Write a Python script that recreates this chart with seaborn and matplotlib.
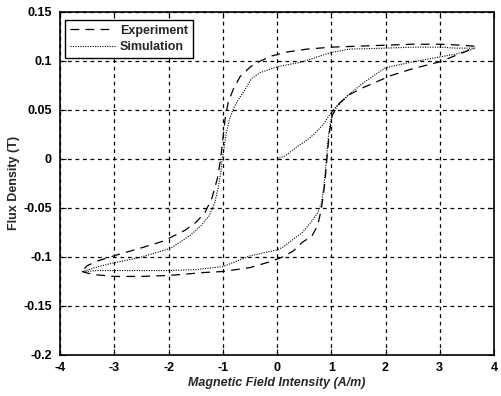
import matplotlib
matplotlib.use("Agg")
import matplotlib.pyplot as plt
import seaborn as sns
import pandas as pd
from matplotlib.lines import Line2D

# ---- data ----
exp_desc_x = [3.64, 3.4, 3.0, 2.5, 2.0, 1.5, 1.0, 0.55, 0.18, -0.1, -0.3, -0.49, -0.68, -0.8, -0.9, -0.96,
              -1.0, -1.04, -1.1, -1.2, -1.33, -1.5, -1.7, -2.1, -2.45, -2.95, -3.3, -3.5, -3.6]
exp_desc_y = [0.115, 0.116, 0.117, 0.117, 0.116, 0.115, 0.114, 0.112, 0.109, 0.105, 0.100, 0.094, 0.084, 0.072,
              0.058, 0.04, 0.02, 0.0, -0.02, -0.04, -0.055, -0.065, -0.073, -0.084, -0.090, -0.098, -0.104,
              -0.109, -0.115]

exp_asc_x = [-3.6, -3.4, -3.0, -2.5, -2.0, -1.76, -1.35, -1.0, -0.5, -0.13, 0.11, 0.3, 0.47, 0.64, 0.75, 0.82,
             0.88, 0.92, 0.96, 1.02, 1.15, 1.35, 1.6, 2.1, 2.5, 3.0, 3.27, 3.5, 3.64]
exp_asc_y = [-0.115, -0.118, -0.120, -0.120, -0.119, -0.118, -0.116, -0.115, -0.111, -0.105, -0.100, -0.094,
             -0.085, -0.079, -0.068, -0.05, -0.025, 0.0, 0.025, 0.045, 0.057, 0.066, 0.073, 0.085, 0.092,
             0.099, 0.105, 0.110, 0.115]

sim_init_x = [0.0, 0.15, 0.36, 0.55, 0.7, 0.85, 0.97, 1.1, 1.33]
sim_init_y = [0.0, 0.003, 0.012, 0.019, 0.026, 0.035, 0.045, 0.054, 0.066]

sim_desc_x = [3.65, 3.3, 3.0, 2.5, 2.0, 1.33, 0.96, 0.47, 0.0, -0.31, -0.47, -0.62, -0.72, -0.8, -0.88, -0.94,
              -0.98, -1.01, -1.04, -1.08, -1.15, -1.25, -1.4, -1.6, -1.95, -2.55, -3.0, -3.3, -3.58]
sim_desc_y = [0.113, 0.113, 0.114, 0.114, 0.113, 0.112, 0.108, 0.099, 0.094, 0.088, 0.082, 0.068, 0.060, 0.052,
              0.040, 0.025, 0.01, 0.0, -0.015, -0.028, -0.045, -0.058, -0.068, -0.078, -0.091, -0.101,
              -0.106, -0.110, -0.115]

sim_asc_x = [-3.58, -3.3, -3.0, -2.5, -2.0, -1.5, -1.0, -0.5, 0.0, 0.11, 0.47, 0.65, 0.75, 0.82, 0.87, 0.91,
             0.95, 1.0, 1.1, 1.33, 1.6, 2.0, 2.5, 3.0, 3.3, 3.56, 3.65]
sim_asc_y = [-0.115, -0.114, -0.114, -0.114, -0.114, -0.113, -0.110, -0.099, -0.093, -0.090, -0.075, -0.063,
             -0.055, -0.045, -0.025, 0.0, 0.025, 0.042, 0.053, 0.066, 0.078, 0.093, 0.099, 0.104, 0.107,
             0.111, 0.113]

x_ticks = [-4, -3, -2, -1, 0, 1, 2, 3, 4]
y_ticks = [-0.2, -0.15, -0.1, -0.05, 0, 0.05, 0.1, 0.15]
y_tick_labels = ["-0.2", "-0.15", "-0.1", "-0.05", "0", "0.05", "0.1", "0.15"]

sns.set_style("ticks")
plt.rcParams["font.family"] = ["Liberation Sans", "DejaVu Sans"]
plt.rcParams["font.weight"] = "bold"

fig = plt.figure(figsize=(5.01, 3.96), dpi=100)
ax = fig.add_axes([0.12, 0.104, 0.866, 0.866])

exp_style = dict(color="black", linewidth=0.9, dashes=(7, 5))
sim_style = dict(color="black", linewidth=0.8, dashes=(1, 1.2))

def branch(x, y, **kw):
    df = pd.DataFrame({"H": x, "B": y})
    sns.lineplot(data=df, x="H", y="B", sort=False, estimator=None, ax=ax, **kw)

branch(exp_desc_x, exp_desc_y, **exp_style)
branch(exp_asc_x, exp_asc_y, **exp_style)
branch(sim_init_x, sim_init_y, **sim_style)
branch(sim_desc_x, sim_desc_y, **sim_style)
branch(sim_asc_x, sim_asc_y, **sim_style)

ax.set_xlim(-4, 4)
ax.set_ylim(-0.2, 0.15)
ax.set_xticks(x_ticks)
ax.set_xticklabels([str(t) for t in x_ticks], fontweight="bold", fontsize=9)
ax.set_yticks(y_ticks)
ax.set_yticklabels(y_tick_labels, fontweight="bold", fontsize=9)
ax.tick_params(axis="x", direction="in", top=True, length=4, width=0.8, colors="black", pad=5)
ax.tick_params(axis="y", direction="in", right=True, length=4, width=0.8, colors="black", pad=6)

ax.grid(True, color="black", linewidth=0.9, linestyle=(0, (3, 3)))
for s in ax.spines.values():
    s.set_color("black")
    s.set_linewidth(1.2)

ax.set_xlabel("Magnetic Field Intensity (A/m)", fontsize=9, fontweight="bold", style="italic", labelpad=2)
ax.set_ylabel("Flux Density (T)", fontsize=9, fontweight="bold", labelpad=2)

handles = [Line2D([0], [0], **exp_style), Line2D([0], [0], **sim_style)]
leg = ax.legend(handles, ["Experiment", "Simulation"], loc="upper left", bbox_to_anchor=(0.005, 0.985),
                frameon=True, fancybox=False, framealpha=1, edgecolor="black",
                prop={"weight": "bold", "size": 9}, handlelength=3.6, handletextpad=0.4,
                borderpad=0.4, labelspacing=0.35, borderaxespad=0.2)
leg.get_frame().set_linewidth(1.0)

fig.savefig("out.png", dpi=100)
